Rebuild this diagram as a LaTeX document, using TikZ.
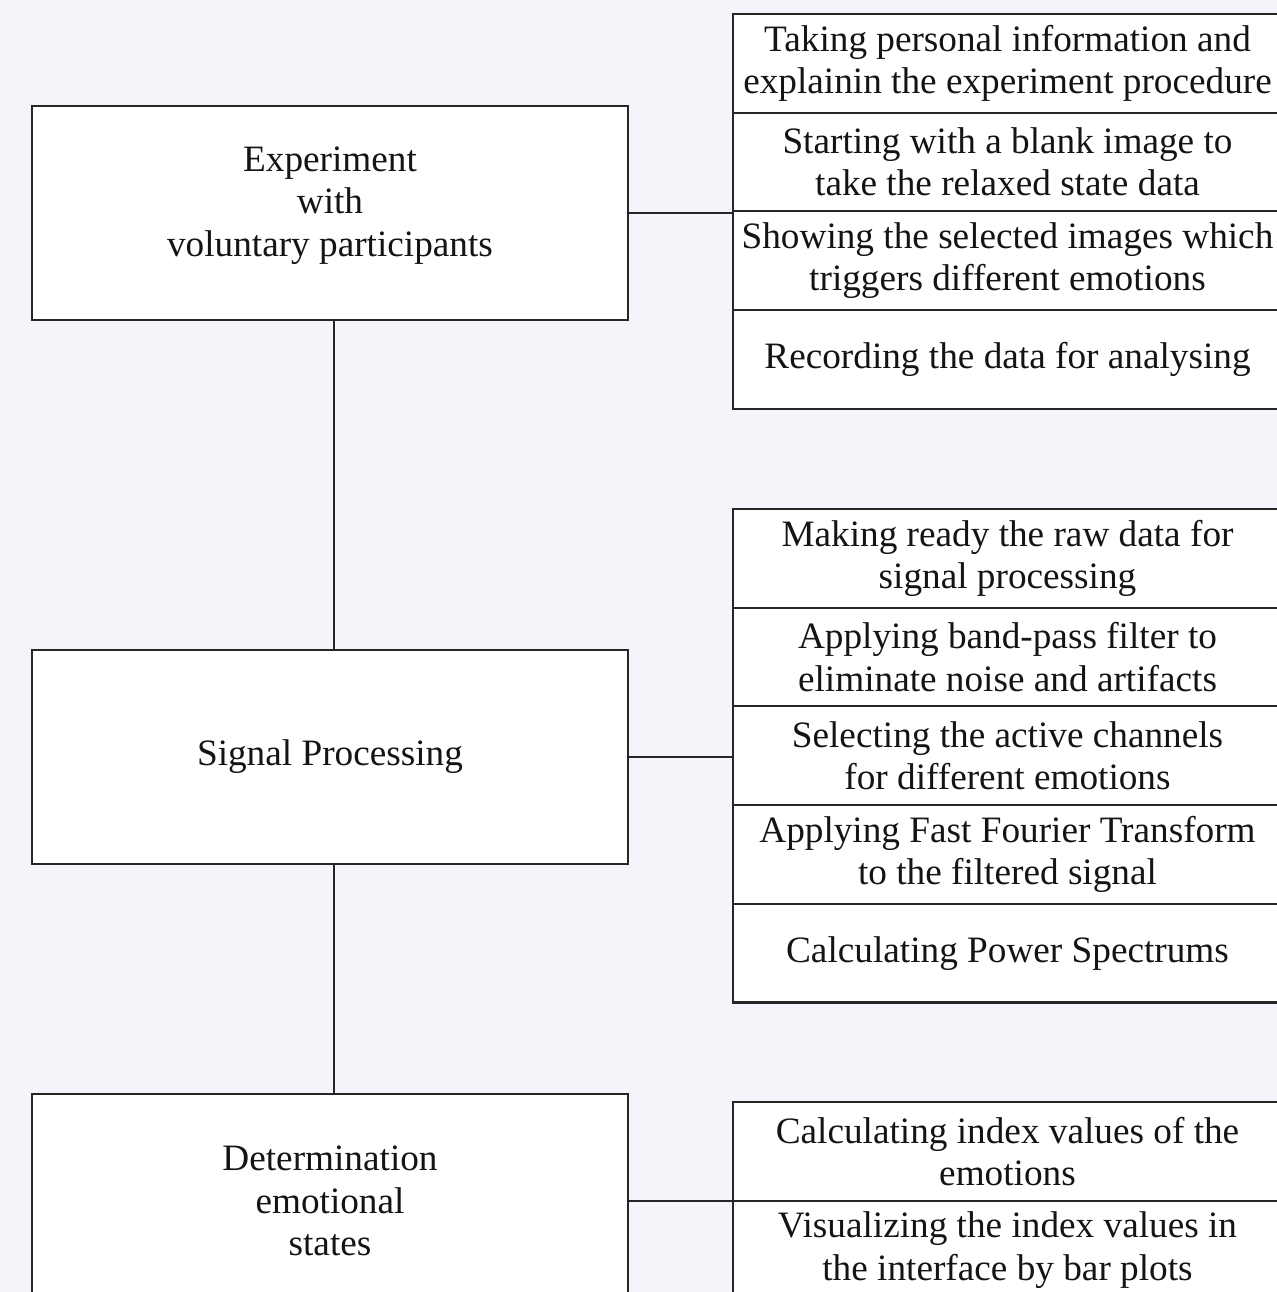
\documentclass[tikz,border=0pt]{standalone}
\usepackage{fontspec}
\setmainfont{Liberation Serif}
\usetikzlibrary{calc}
\definecolor{bgcol}{HTML}{F4F4FB}
\definecolor{linecol}{HTML}{262626}
\definecolor{textcol}{HTML}{141414}

\begin{document}
\begin{tikzpicture}[x=0.02cm,y=-0.02cm,
    stage/.style={draw=linecol,line width=1.2pt,fill=white,text=textcol,
      minimum width=11.92cm,minimum height=4.28cm,inner sep=0pt,align=center,
      font=\fontsize{21.2}{24}\selectfont},
    task/.style={draw=linecol,line width=1.2pt,fill=white,text=textcol,
      minimum width=10.98cm,minimum height=1.974cm,inner sep=0pt,align=center,
      font=\fontsize{21.2}{24}\selectfont},
    link/.style={draw=linecol,line width=1.2pt}]
      \useasboundingbox (0,0) rectangle (1277,1292);
      \clip (0,0) rectangle (1277,1292);
      \fill[bgcol] (0,0) rectangle (1277,1292);
      % main stages
      \node[stage] (exp) at (330,213) {\raisebox{0.15cm}[\height][\depth]{\begin{tabular}{@{}c@{}}Experiment\\with\\voluntary participants\end{tabular}}};
      \node[stage] (sig) at (330,757) {Signal Processing};
      \node[stage] (det) at (330,1201) {Determination\\emotional\\states};
      \path[link] ([xshift=0.08cm]exp.south) edge ([xshift=0.08cm]sig.north);
      \path[link] ([xshift=0.08cm]sig.south) edge ([xshift=0.08cm]det.north);
      % steps of each stage
      \foreach \t [count=\i] in {{Taking personal information and\\explainin the experiment procedure},
          {Starting with a blank image to\\take the relaxed state data},
          {Showing the selected images which\\triggers different emotions},
          {Recording the data for analysing}} {
        \node[task] (a\i) at (1007.5,{14+49.35+(\i-1)*98.7}) {\t};
      }
      \foreach \t [count=\i] in {{Making ready the raw data for\\signal processing},
          {Applying band-pass filter to\\eliminate noise and artifacts},
          {Selecting the active channels\\for different emotions},
          {Applying Fast Fourier Transform\\to the filtered signal},
          {Calculating Power Spectrums}} {
        \node[task] (b\i) at (1007.5,{509+49.35+(\i-1)*98.7}) {\t};
      }
      \foreach \t [count=\i] in {{Calculating index values of the\\emotions},
          {Visualizing the index values in\\the interface by bar plots}} {
        \node[task] (c\i) at (1007.5,{1102+49.35+(\i-1)*98.7}) {\t};
      }
      \path[link] (exp.east) edge (exp.east -| a1.west);
      \path[link] (sig.east) edge (sig.east -| b1.west);
      \path[link] (det.east) edge (det.east -| c1.west);
    \end{tikzpicture}
\end{document}
